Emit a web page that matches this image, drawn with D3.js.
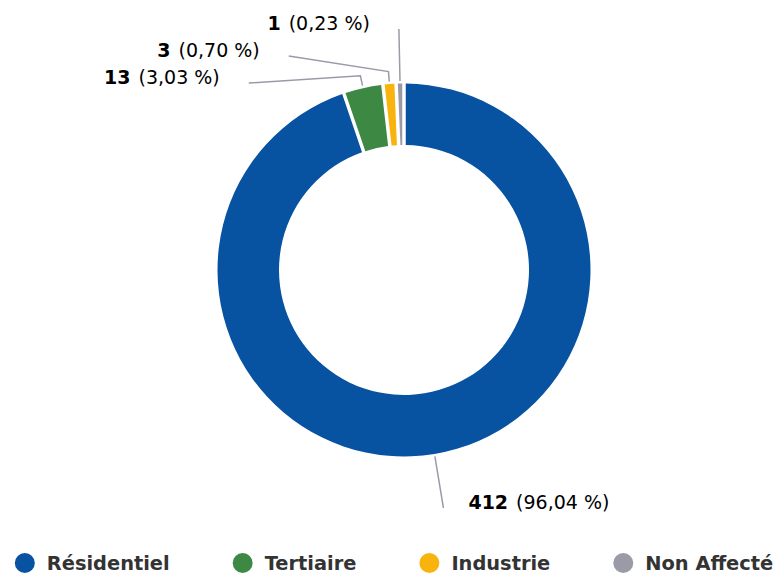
<!DOCTYPE html>
<html>
<head>
<meta charset="utf-8">
<script src="https://cdn.jsdelivr.net/npm/d3@7"></script>
<style>
  body { margin: 0; background: #fff; }
  svg { display: block; font-family: "DejaVu Sans", sans-serif; }
</style>
</head>
<body>
<script>
// donut data
const categories = ["Résidentiel", "Tertiaire", "Industrie", "Non Affecté"];
const values = [412, 13, 3, 1];
const colors = ["#0752a1", "#3d8944", "#f9b30f", "#9b9ba8"];

const width = 778, height = 573;
const cx = 404, cy = 270;
const outerR = 186.5, innerR = 125;

const svg = d3.select("body").append("svg")
  .attr("width", width)
  .attr("height", height);

const total = d3.sum(values);
const fr = d3.formatLocale({ decimal: ",", thousands: " ", grouping: [3], currency: ["", " €"] });
const pct = fr.format(".2f");

const pie = d3.pie().sort(null).value(d => d).padAngle(0.028);
const arcs = pie(values);

const arc = d3.arc()
  .innerRadius(innerR)
  .outerRadius(outerR)
  .padRadius(innerR);

const g = svg.append("g").attr("transform", `translate(${cx},${cy})`);

g.selectAll("path.slice")
  .data(arcs)
  .enter()
  .append("path")
  .attr("class", "slice")
  .attr("d", arc)
  .attr("fill", (d, i) => colors[i]);

// label layout (natural spot on a circle, pushed apart when they overlap)
const labelR = 241, labelRx = 243, minGap = 27;
const labels = arcs.map((d, i) => {
  const mid = (d.startAngle + d.endAngle) / 2;
  const side = Math.sin(mid) < 0 ? -1 : 1;
  return {
    i, mid, side,
    y: cy - labelR * Math.cos(mid),
    x: cx + labelR * Math.sin(mid),
    moved: false
  };
});

[-1, 1].forEach(s => {
  const list = labels.filter(l => l.side === s).sort((a, b) => a.y - b.y);
  for (let k = 1; k < list.length; k++) {
    if (list[k].y < list[k - 1].y + minGap) {
      list[k].y = list[k - 1].y + minGap;
      list[k].moved = true;
    }
  }
});
labels.forEach(l => {
  if (l.moved) {
    const dy = l.y - cy;
    l.x = cx + l.side * Math.sqrt(Math.max(0, labelRx * labelRx - dy * dy));
  }
});

// connectors
const pt = (a, r) => [cx + r * Math.sin(a), cy - r * Math.cos(a)];
svg.append("g").selectAll("polyline")
  .data(labels)
  .enter()
  .append("polyline")
  .attr("points", l => [pt(l.mid, outerR + 2.5), pt(l.mid, outerR + 12.5), [l.x, l.y]].map(p => p.join(",")).join(" "))
  .attr("fill", "none")
  .attr("stroke", "#9a9aaa")
  .attr("stroke-width", 1.5);

// label texts
const lt = svg.append("g").selectAll("text")
  .data(labels)
  .enter()
  .append("text")
  .attr("x", l => l.side < 0 ? l.x - 29 : l.x + 25)
  .attr("y", l => l.y + 1)
  .attr("text-anchor", l => l.side < 0 ? "end" : "start")
  .attr("font-size", 19)
  .attr("fill", "#000");

lt.append("tspan")
  .attr("font-weight", "bold")
  .text(l => values[l.i]);
lt.append("tspan")
  .attr("dx", 8)
  .text(l => `(${pct(values[l.i] / total * 100)} %)`);

// legend
const legend = svg.append("g");
const items = legend.selectAll("g")
  .data(categories)
  .enter()
  .append("g");

items.append("circle")
  .attr("r", 10)
  .attr("cx", 0)
  .attr("cy", 0)
  .attr("fill", (d, i) => colors[i]);

items.append("text")
  .attr("x", 22)
  .attr("y", 7)
  .attr("font-size", 19.4)
  .attr("font-weight", "bold")
  .attr("fill", "#333")
  .text(d => d);

let xPos = 0;
const offsets = [];
items.each(function () {
  offsets.push(xPos);
  const w = d3.select(this).select("text").node().getComputedTextLength();
  xPos += 22 + w + 73;
});
const legendW = xPos - 73 + 10;
const startX = 394 - legendW / 2 + 10;
items.attr("transform", (d, i) => `translate(${startX + offsets[i]},563)`);
</script>
</body>
</html>
